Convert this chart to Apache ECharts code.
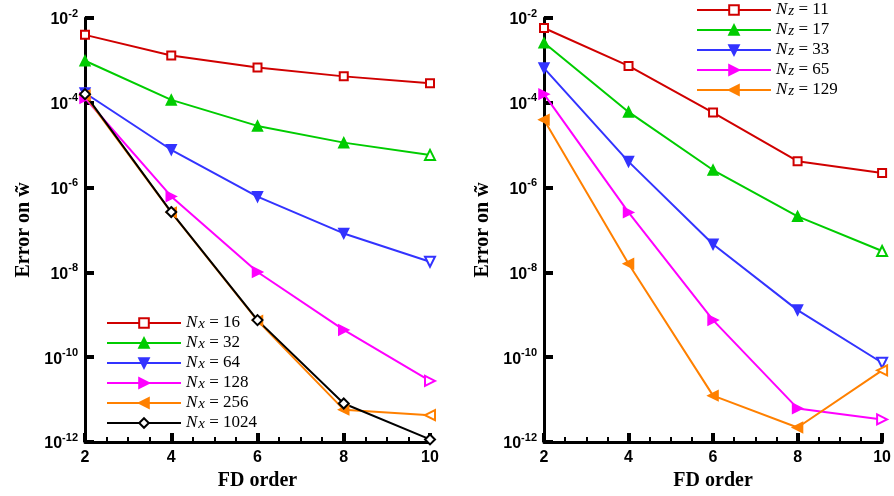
<!DOCTYPE html>
<html><head><meta charset="utf-8">
<script src="https://cdn.jsdelivr.net/npm/echarts@6/dist/echarts.min.js"></script>
<style>html,body{margin:0;padding:0;background:#fff}#c{width:894px;height:496px}</style>
</head><body><div id="c"></div>
<script>
// ---- data ----
const fdOrders = [2, 4, 6, 8, 10];
const xTicks = ['2', '4', '6', '8', '10'];
const yTickExponents = [-2, -4, -6, -8, -10, -12];

// left panel: N_x
const leftVar = 'x';
const leftLabels = ['16', '32', '64', '128', '256', '1024'];
const nx16   = [4.0e-3, 1.3e-3, 6.8e-4, 4.2e-4, 2.9e-4];
const nx32   = [9.8e-4, 1.17e-4, 2.85e-5, 1.15e-5, 5.9e-6];
const nx64   = [1.7e-4, 7.8e-6, 6.1e-7, 8.3e-8, 1.78e-8];
const nx128  = [1.3e-4, 6.2e-7, 1.02e-8, 4.4e-10, 2.75e-11];
const nx256  = [1.5e-4, 2.6e-7, 7.3e-10, 5.8e-12, 4.3e-12];
const nx1024 = [1.6e-4, 2.65e-7, 7.5e-10, 8.1e-12, 1.15e-12];

// right panel: N_z
const rightVar = 'z';
const rightLabels = ['11', '17', '33', '65', '129'];
const nz11  = [5.8e-3, 7.4e-4, 5.9e-5, 4.2e-6, 2.2e-6];
const nz17  = [2.6e-3, 6.1e-5, 2.6e-6, 2.1e-7, 3.2e-8];
const nz33  = [6.6e-4, 4.1e-6, 4.6e-8, 1.29e-9, 7.4e-11];
const nz65  = [1.6e-4, 2.6e-7, 7.5e-10, 6.2e-12, 3.4e-12];
const nz129 = [4.0e-5, 1.6e-8, 1.24e-11, 2.2e-12, 4.9e-11];

const xName = 'FD order';
const yName = 'Error on w\u0303';

// ---- styles ----
const styles = [
  { color: '#d00000', symbol: 'emptyRect', rotate: 0, size: 8, lastHollow: false },
  { color: '#00cc00', symbol: 'triangle', rotate: 0, size: 10, lastHollow: true },
  { color: '#3333ff', symbol: 'triangle', rotate: 180, size: 10, lastHollow: true },
  { color: '#ff00ff', symbol: 'triangle', rotate: -90, size: 10, lastHollow: true },
  { color: '#ff8000', symbol: 'triangle', rotate: 90, size: 10, lastHollow: true },
  { color: '#000000', symbol: 'emptyDiamond', rotate: 0, size: 10, lastHollow: false }
];

function mkSeries(name, vals, st, idx) {
  return {
    name: name, type: 'line', xAxisIndex: idx, yAxisIndex: idx,
    data: fdOrders.map((x, i) => {
      const d = { value: [x, vals[i]] };
      if (st.lastHollow && i === fdOrders.length - 1) d.symbol = 'emptyTriangle';
      return d;
    }),
    symbol: st.symbol, symbolRotate: st.rotate, symbolSize: st.size,
    showAllSymbol: true,
    lineStyle: { color: st.color, width: 2 },
    itemStyle: { color: st.color, borderColor: st.color, borderWidth: 1.5 },
    emphasis: { disabled: true },
    clip: false, z: 3
  };
}

const leftSets = [nx16, nx32, nx64, nx128, nx256, nx1024];
const rightSets = [nz11, nz17, nz33, nz65, nz129];
const leftNames = leftLabels.map(l => 'N' + leftVar + ' = ' + l);
const rightNames = rightLabels.map(l => 'N' + rightVar + ' = ' + l);

const series = [];
leftSets.forEach((s, i) => series.push(mkSeries(leftNames[i], s, styles[i], 0)));
rightSets.forEach((s, i) => series.push(mkSeries(rightNames[i], s, styles[i], 1)));

const sansLbl = 'Liberation Sans';
const serif = 'Liberation Serif';

function xAxisCfg(idx) {
  return {
    type: 'value', gridIndex: idx, min: 2, max: 10, interval: 2,
    name: xName, nameLocation: 'middle', nameGap: 27,
    nameTextStyle: { fontFamily: serif, fontWeight: 'bold', fontSize: 20, color: '#000' },
    axisLine: { show: true, onZero: false, lineStyle: { color: '#000', width: 3 } },
    axisTick: { show: true, inside: true, length: 9, lineStyle: { color: '#000', width: 4 } },
    minorTick: { show: true, splitNumber: 4, length: 5, lineStyle: { color: '#000', width: 2 } },
    axisLabel: { fontFamily: sansLbl, fontWeight: 'bold', fontSize: 16, color: '#000', margin: 8,
      formatter: v => xTicks[fdOrders.indexOf(v)] || String(v) },
    splitLine: { show: false }, minorSplitLine: { show: false }
  };
}
function yAxisCfg(idx) {
  return {
    type: 'log', logBase: 10, gridIndex: idx, min: 1e-12, max: 1e-2, interval: 2,
    name: yName, nameLocation: 'middle', nameGap: 51, nameRotate: 90,
    nameTextStyle: { fontFamily: serif, fontWeight: 'bold', fontSize: 20, color: '#000' },
    axisLine: { show: true, onZero: false, lineStyle: { color: '#000', width: 3 } },
    axisTick: { show: true, inside: true, length: 9, lineStyle: { color: '#000', width: 4 } },
    axisLabel: {
      margin: 7,
      formatter: v => {
        const e = Math.round(Math.log10(v));
        return '{a|10}{b|' + e + '}';
      },
      rich: {
        a: { fontFamily: sansLbl, fontWeight: 'bold', fontSize: 16, color: '#000', lineHeight: 20, verticalAlign: 'bottom' },
        b: { fontFamily: sansLbl, fontWeight: 'bold', fontSize: 11, color: '#000', verticalAlign: 'top', lineHeight: 12 }
      }
    },
    splitLine: { show: false }
  };
}

function legendCfg(names, v, left, top) {
  return {
    data: names, orient: 'vertical', left: left, top: top, padding: 0,
    itemWidth: 74, itemHeight: 12, itemGap: 2,
    selectedMode: false,
    formatter: name => '{n|N}{s|' + v + '}{t| = ' + name.split(' = ')[1] + '}',
    textStyle: {
      rich: {
        n: { fontFamily: serif, fontStyle: 'italic', fontSize: 17, color: '#000', lineHeight: 14 },
        s: { fontFamily: serif, fontStyle: 'italic', fontSize: 15, color: '#000', lineHeight: 14, padding: [3, 0, 0, 1] },
        t: { fontFamily: serif, fontSize: 17, color: '#000', lineHeight: 14 }
      }
    }
  };
}

const chart = echarts.init(document.getElementById('c'), null, { renderer: 'canvas' });
chart.setOption({
  animation: false,
  backgroundColor: '#fff',
  grid: [
    { left: 85, top: 18, width: 345, height: 424 },
    { left: 544, top: 18, width: 344, height: 424 }
  ],
  xAxis: [xAxisCfg(0), xAxisCfg(1)],
  yAxis: [yAxisCfg(0), yAxisCfg(1)],
  legend: [legendCfg(leftNames, leftVar, 106, 314), legendCfg(rightNames, rightVar, 696, 1)],
  series: series
});
</script>
</body></html>
